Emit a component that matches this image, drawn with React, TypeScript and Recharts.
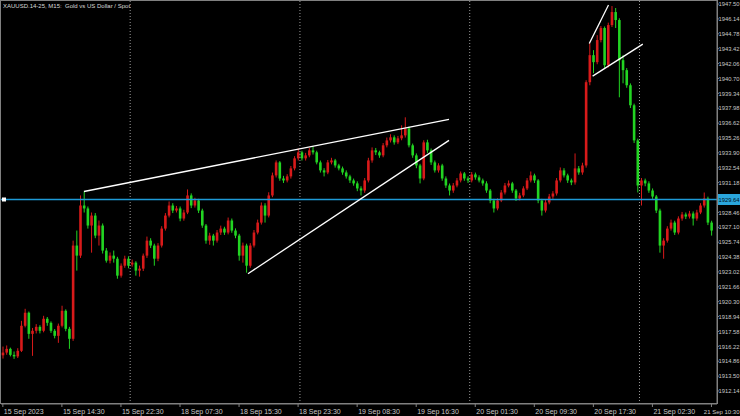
import React from 'react';
import { ComposedChart, Bar, XAxis, YAxis, ReferenceLine } from 'recharts';

const opens = [
  1915.40, 1915.65, 1915.99, 1915.44, 1915.30, 1915.81, 1918.10, 1919.29, 1917.36, 1917.64,
  1918.00, 1917.64, 1918.74, 1918.37, 1917.64, 1917.18, 1918.10, 1919.47, 1917.82, 1916.91,
  1925.43, 1924.51, 1929.09, 1928.82, 1927.26, 1928.17, 1926.34, 1927.26, 1924.97, 1924.05,
  1924.51, 1924.23, 1922.68, 1923.59, 1924.23, 1923.70, 1923.87, 1923.14, 1923.32, 1924.51,
  1925.88, 1925.43, 1924.23, 1925.43, 1926.98, 1928.17, 1929.09, 1928.63, 1928.82, 1927.90,
  1928.45, 1930.01, 1929.09, 1929.55, 1928.63, 1927.26, 1925.88, 1926.34, 1925.88, 1926.62,
  1926.98, 1926.62, 1927.72, 1926.80, 1926.34, 1924.51, 1925.43, 1923.59, 1925.43, 1926.62,
  1927.53, 1929.09, 1928.17, 1930.01, 1931.84, 1933.03, 1931.56, 1931.38, 1931.75, 1932.48,
  1933.40, 1933.95, 1933.40, 1933.67, 1934.13, 1933.95, 1933.03, 1932.30, 1932.11, 1933.03,
  1933.21, 1932.75, 1932.48, 1932.11, 1931.75, 1931.38, 1931.11, 1930.65, 1930.46, 1931.38,
  1933.21, 1934.13, 1933.95, 1933.67, 1934.59, 1935.04, 1935.32, 1934.86, 1935.23, 1935.50,
  1936.14, 1934.59, 1933.67, 1932.75, 1931.56, 1934.86, 1934.13, 1933.03, 1932.30, 1932.75,
  1931.56, 1930.92, 1930.46, 1930.92, 1931.38, 1932.02, 1931.56, 1931.38, 1931.93, 1931.66,
  1931.38, 1931.11, 1930.46, 1929.55, 1928.82, 1929.55, 1930.28, 1930.92, 1931.11, 1930.46,
  1929.73, 1930.01, 1930.65, 1931.38, 1931.84, 1931.38, 1929.55, 1928.63, 1929.37, 1929.91,
  1930.19, 1931.38, 1932.30, 1931.84, 1931.38, 1931.20, 1932.48, 1932.11, 1932.75, 1940.36,
  1942.83, 1942.19, 1944.21, 1945.31, 1941.91, 1945.58, 1946.77, 1946.04, 1942.37, 1941.46,
  1940.08, 1938.25, 1935.04, 1930.92, 1931.38, 1931.11, 1930.46, 1929.91, 1928.63, 1925.43,
  1925.88, 1926.98, 1927.53, 1926.62, 1927.90, 1928.27, 1928.08, 1928.36, 1927.90, 1928.45,
  1929.09, 1929.73, 1927.53,
];

const highs = [
  1916.20, 1916.30, 1916.10, 1915.75, 1916.05, 1918.55, 1919.65, 1919.40, 1917.90, 1918.25,
  1918.15, 1919.01, 1918.90, 1918.50, 1917.80, 1918.30, 1919.93, 1919.60, 1918.00, 1925.88,
  1926.80, 1930.01, 1930.37, 1929.00, 1928.45, 1928.40, 1927.72, 1927.45, 1925.20, 1924.80,
  1924.97, 1924.40, 1923.80, 1924.50, 1924.45, 1924.15, 1924.00, 1923.60, 1924.70, 1926.25,
  1926.10, 1925.60, 1925.65, 1927.20, 1928.40, 1929.46, 1929.30, 1929.05, 1929.00, 1928.70,
  1930.56, 1930.20, 1929.80, 1929.70, 1928.80, 1927.40, 1926.60, 1926.50, 1926.85, 1927.25,
  1927.15, 1927.99, 1927.90, 1927.00, 1926.50, 1925.70, 1925.60, 1925.65, 1926.85, 1927.80,
  1929.37, 1929.30, 1930.30, 1932.10, 1933.21, 1933.15, 1931.80, 1931.95, 1932.70, 1933.60,
  1934.31, 1934.10, 1933.90, 1934.35, 1934.50, 1934.10, 1933.20, 1932.50, 1933.25, 1933.45,
  1933.35, 1932.90, 1932.65, 1932.30, 1931.90, 1931.55, 1931.30, 1930.85, 1931.60, 1933.45,
  1934.40, 1934.35, 1934.10, 1934.80, 1935.30, 1935.60, 1935.50, 1935.45, 1936.42, 1937.15,
  1936.30, 1934.75, 1933.85, 1932.90, 1935.05, 1935.10, 1934.30, 1933.20, 1932.95, 1932.90,
  1931.75, 1931.10, 1931.15, 1931.60, 1932.20, 1932.15, 1931.75, 1932.15, 1932.10, 1931.85,
  1931.55, 1931.30, 1930.60, 1929.70, 1929.75, 1930.50, 1931.15, 1931.38, 1931.25, 1930.60,
  1930.25, 1930.85, 1931.60, 1932.20, 1932.00, 1931.50, 1929.70, 1929.60, 1930.15, 1930.40,
  1931.60, 1932.57, 1932.50, 1932.00, 1931.55, 1933.85, 1932.70, 1933.00, 1940.54, 1943.93,
  1943.29, 1944.66, 1945.49, 1945.45, 1945.80, 1947.32, 1947.14, 1946.20, 1942.83, 1941.65,
  1940.25, 1938.40, 1935.20, 1931.60, 1931.55, 1931.30, 1930.65, 1930.05, 1928.80, 1926.10,
  1927.20, 1927.80, 1927.70, 1928.10, 1928.50, 1928.45, 1928.60, 1928.55, 1928.70, 1929.30,
  1930.28, 1929.90, 1927.70,
];

const lows = [
  1915.10, 1915.45, 1915.30, 1915.07, 1915.15, 1915.70, 1917.95, 1916.91, 1915.35, 1917.40,
  1917.40, 1917.50, 1918.10, 1917.45, 1916.95, 1916.54, 1917.95, 1917.60, 1915.99, 1916.72,
  1923.14, 1924.30, 1928.45, 1926.98, 1924.78, 1926.10, 1925.43, 1924.70, 1923.87, 1923.80,
  1923.87, 1922.40, 1922.50, 1923.40, 1923.35, 1923.50, 1922.68, 1922.59, 1923.10, 1924.30,
  1925.20, 1923.59, 1924.00, 1925.25, 1926.80, 1928.00, 1928.40, 1928.45, 1927.65, 1927.70,
  1928.30, 1928.85, 1928.90, 1928.40, 1927.05, 1925.60, 1925.50, 1925.43, 1925.70, 1926.40,
  1926.40, 1926.45, 1926.60, 1926.10, 1924.05, 1923.87, 1922.95, 1923.40, 1925.25, 1926.45,
  1927.35, 1927.53, 1928.00, 1929.85, 1931.65, 1931.35, 1931.15, 1931.20, 1931.55, 1932.30,
  1933.20, 1933.20, 1933.20, 1933.50, 1933.75, 1932.85, 1932.10, 1931.75, 1931.95, 1932.85,
  1932.55, 1932.30, 1931.90, 1931.55, 1931.15, 1930.90, 1930.40, 1930.01, 1930.25, 1931.20,
  1933.00, 1933.70, 1933.45, 1933.50, 1934.40, 1934.85, 1934.65, 1934.70, 1935.05, 1935.30,
  1934.40, 1933.45, 1932.50, 1931.11, 1931.40, 1933.90, 1932.80, 1932.10, 1932.10, 1931.35,
  1930.70, 1930.01, 1930.25, 1930.75, 1931.20, 1931.35, 1931.15, 1931.20, 1931.45, 1931.20,
  1930.90, 1930.25, 1929.30, 1928.45, 1928.65, 1929.40, 1930.10, 1930.75, 1930.25, 1929.50,
  1929.55, 1929.85, 1930.50, 1931.20, 1931.15, 1929.30, 1928.17, 1928.45, 1929.20, 1929.70,
  1930.00, 1931.20, 1931.65, 1931.15, 1930.95, 1931.00, 1931.90, 1931.90, 1932.55, 1940.08,
  1941.18, 1942.00, 1944.00, 1941.64, 1941.70, 1945.40, 1945.31, 1938.98, 1940.26, 1939.85,
  1938.00, 1934.80, 1930.28, 1929.09, 1930.85, 1930.25, 1929.70, 1928.40, 1924.78, 1924.23,
  1925.70, 1926.80, 1926.40, 1926.45, 1927.70, 1927.85, 1927.90, 1927.26, 1927.70, 1928.30,
  1928.90, 1927.30, 1926.34,
];

const closes = [
  1915.65, 1915.99, 1915.44, 1915.30, 1915.81, 1918.10, 1919.29, 1917.36, 1917.64, 1918.00,
  1917.64, 1918.74, 1918.37, 1917.64, 1917.18, 1918.10, 1919.47, 1917.82, 1916.91, 1925.43,
  1924.51, 1929.09, 1928.82, 1927.26, 1928.17, 1926.34, 1927.26, 1924.97, 1924.05, 1924.51,
  1924.23, 1922.68, 1923.59, 1924.23, 1923.59, 1923.87, 1923.14, 1923.32, 1924.51, 1925.88,
  1925.43, 1924.23, 1925.43, 1926.98, 1928.17, 1929.09, 1928.63, 1928.82, 1927.90, 1928.45,
  1930.01, 1929.09, 1929.55, 1928.63, 1927.26, 1925.88, 1926.34, 1925.88, 1926.62, 1926.98,
  1926.62, 1927.72, 1926.80, 1926.34, 1924.51, 1925.43, 1923.59, 1925.43, 1926.62, 1927.53,
  1929.09, 1928.17, 1930.01, 1931.84, 1933.03, 1931.56, 1931.38, 1931.75, 1932.48, 1933.40,
  1933.95, 1933.40, 1933.67, 1934.13, 1933.95, 1933.03, 1932.30, 1932.11, 1933.03, 1933.21,
  1932.75, 1932.48, 1932.11, 1931.75, 1931.38, 1931.11, 1930.65, 1930.46, 1931.38, 1933.21,
  1934.13, 1933.95, 1933.67, 1934.59, 1935.04, 1935.32, 1934.86, 1935.23, 1935.50, 1936.14,
  1934.59, 1933.67, 1932.75, 1931.56, 1934.86, 1934.13, 1933.03, 1932.30, 1932.75, 1931.56,
  1930.92, 1930.46, 1930.92, 1931.38, 1932.02, 1931.56, 1931.38, 1931.93, 1931.66, 1931.38,
  1931.11, 1930.46, 1929.55, 1928.82, 1929.55, 1930.28, 1930.92, 1931.11, 1930.46, 1929.73,
  1930.01, 1930.65, 1931.38, 1931.84, 1931.38, 1929.55, 1928.63, 1929.37, 1929.91, 1930.19,
  1931.38, 1932.30, 1931.84, 1931.38, 1931.20, 1932.48, 1932.11, 1932.75, 1940.36, 1942.83,
  1942.19, 1944.21, 1945.31, 1941.91, 1945.58, 1946.77, 1946.04, 1942.37, 1941.46, 1940.08,
  1938.25, 1935.04, 1930.92, 1931.38, 1931.11, 1930.46, 1929.91, 1928.63, 1925.43, 1925.88,
  1926.98, 1927.53, 1926.62, 1927.90, 1928.27, 1928.08, 1928.36, 1927.90, 1928.45, 1929.09,
  1929.73, 1927.53, 1926.80,
];

const timeTickIndexes = [0, 16, 32, 48, 64, 80, 96, 112, 128, 144, 160, 176, 192];
const timeTickLabels = [
  '15 Sep 2023', '15 Sep 14:30', '15 Sep 22:30', '18 Sep 07:30', '18 Sep 15:30',
  '18 Sep 23:30', '19 Sep 08:30', '19 Sep 16:30', '20 Sep 01:30', '20 Sep 09:30',
  '20 Sep 17:30', '21 Sep 02:30', '21 Sep 10:30',
];

const priceTicks = [
  1912.14, 1913.50, 1914.86, 1916.22, 1917.58, 1918.94, 1920.30, 1921.66, 1923.02,
  1924.38, 1925.74, 1927.10, 1928.46, 1931.18, 1932.54, 1933.90, 1935.26, 1936.62,
  1937.98, 1939.34, 1940.70, 1942.06, 1943.42, 1944.78, 1946.14, 1947.50,
];

const daySeparators = [34.5, 80.5, 126.5, 172.5];
const horizontalLevel = 1929.64;

const trendLineStarts = [
  { x: 21.98, y: 1930.37 },
  { x: 66.42, y: 1922.86 },
  { x: 158.9, y: 1943.9 },
  { x: 159.8, y: 1940.91 },
];
const trendLineEnds = [
  { x: 120.89, y: 1936.97 },
  { x: 120.89, y: 1935.04 },
  { x: 164.1, y: 1947.41 },
  { x: 173.4, y: 1943.84 },
];

const title = 'XAUUSD.14-25, M15:  Gold vs US Dollar / Spot';

const UP = '#d81a1a';
const DOWN = '#22d422';
const AXIS = '#808080';
const TEXT = '#c8c8c8';
const FONT = '"Liberation Sans", Arial, sans-serif';

const rows = opens.map((o, i) => ({
  i,
  open: o,
  high: highs[i],
  low: lows[i],
  close: closes[i],
  range: [lows[i], highs[i]],
}));

const Candle = (props: any) => {
  const { x, y, width, height, payload } = props;
  if (!payload || x == null || y == null) return null;
  const { open, close, high, low } = payload;
  const top = Math.min(y, y + height);
  const h = Math.abs(height);
  const px = (p: number) => (high === low ? top : top + ((high - p) / (high - low)) * h);
  const up = close >= open;
  const color = up ? UP : DOWN;
  const cx = x + width / 2;
  const bTop = px(Math.max(open, close));
  const bBot = px(Math.min(open, close));
  return (
    <g>
      <line x1={cx} x2={cx} y1={top} y2={top + h} stroke={color} strokeWidth={1} />
      <rect x={cx - 1.3} y={bTop} width={2.6} height={Math.max(1, bBot - bTop)} fill={color} />
    </g>
  );
};

const XTick = (props: any) => {
  const { x, y, payload } = props;
  const idx = timeTickIndexes.indexOf(payload.value);
  const last = idx === timeTickIndexes.length - 1;
  return (
    <text
      x={last ? 739.5 : x + 1}
      y={y}
      dy={6}
      textAnchor={last ? 'end' : 'start'}
      fill={TEXT}
      fontSize={last ? 6 : 7}
      fontFamily={FONT}
    >
      {idx >= 0 ? timeTickLabels[idx] : ''}
    </text>
  );
};

const YTick = (props: any) => {
  const { y, payload } = props;
  return (
    <text
      x={718.5}
      y={y}
      dy={2.2}
      textAnchor="start"
      fill={TEXT}
      fontSize={5.8}
      fontFamily={FONT}
    >
      {Number(payload.value).toFixed(2)}
    </text>
  );
};

const LevelLabel = (props: any) => {
  const vb = props.viewBox || {};
  const right = vb.x + vb.width;
  return (
    <g>
      <rect x={vb.x + 1} y={vb.y - 2} width={4} height={4} fill="#ffffff" />
      <rect x={right + 1} y={vb.y - 5.5} width={23} height={11} fill="#2aa6dc" />
      <text
        x={718.5}
        y={vb.y}
        dy={2.2}
        fill="#001018"
        fontSize={5.8}
        fontFamily={FONT}
      >
        {horizontalLevel.toFixed(2)}
      </text>
    </g>
  );
};

export default function App() {
  return (
    <div
      style={{
        position: 'absolute',
        left: 0,
        top: 0,
        width: 740,
        height: 416,
        background: '#000',
        overflow: 'hidden',
      }}
    >
      <div
        style={{
          position: 'absolute',
          left: 0,
          top: 0,
          width: 718,
          height: 404,
          border: `1px solid ${AXIS}`,
          boxSizing: 'border-box',
        }}
      />
      <ComposedChart
        width={740}
        height={416}
        data={rows}
        margin={{ top: 1, right: 0, bottom: 0, left: 1 }}
        style={{ position: 'absolute', left: 0, top: 0 }}
      >
        <XAxis
          dataKey="i"
          type="number"
          domain={[-0.5, 193.5]}
          allowDataOverflow
          ticks={timeTickIndexes}
          tick={<XTick />}
          tickSize={3}
          tickMargin={1}
          height={12}
          stroke={AXIS}
          tickLine={{ stroke: AXIS }}
          interval={0}
        />
        <YAxis
          orientation="right"
          type="number"
          domain={[1910.95, 1947.78]}
          allowDataOverflow
          ticks={priceTicks}
          tick={<YTick />}
          tickSize={2}
          tickMargin={0}
          width={23}
          stroke={AXIS}
          tickLine={{ stroke: AXIS }}
          interval={0}
        />
        {daySeparators.map((d) => (
          <ReferenceLine key={`d${d}`} x={d} stroke="#9a9a9a" strokeDasharray="1 2" />
        ))}
        <ReferenceLine
          y={horizontalLevel}
          stroke="#1e9ad6"
          strokeWidth={1.3}
          label={<LevelLabel />}
        />
        <Bar
          dataKey="range"
          barSize={2}
          shape={<Candle />}
          isAnimationActive={false}
        />
        {trendLineStarts.map((s, k) => (
          <ReferenceLine
            key={`t${k}`}
            segment={[s, trendLineEnds[k]]}
            stroke="#ffffff"
            strokeWidth={1.3}
            ifOverflow="visible"
          />
        ))}
      </ComposedChart>
      <div
        style={{
          position: 'absolute',
          left: 3,
          top: 2,
          color: '#d8d8d8',
          fontSize: 6,
          fontFamily: FONT,
          whiteSpace: 'pre',
          lineHeight: '8px',
        }}
      >
        {title}
      </div>
    </div>
  );
}
